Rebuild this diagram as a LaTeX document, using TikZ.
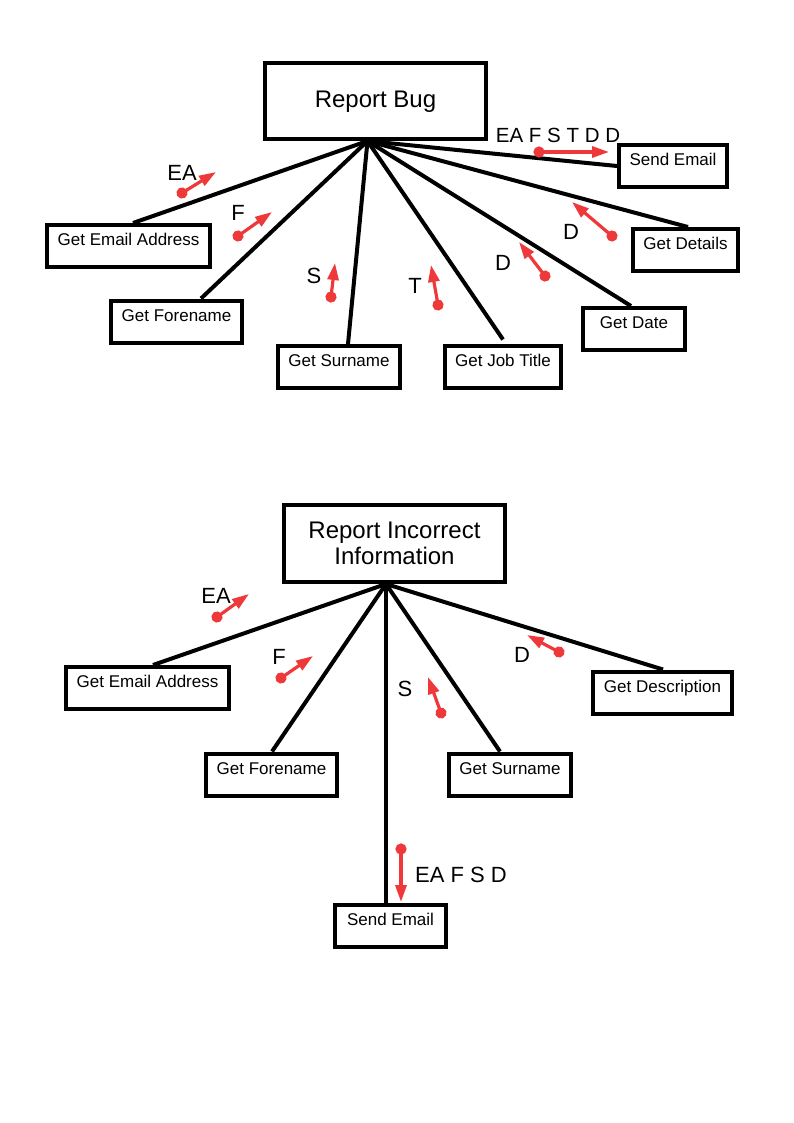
\documentclass[tikz,border=0pt]{standalone}
\usepackage{fontspec}
\setmainfont{Liberation Sans}
\usetikzlibrary{arrows.meta,calc}
\definecolor{flowred}{RGB}{238,56,58}
\tikzset{
  bigbox/.style={draw,line width=4pt,inner sep=0pt,minimum height=76pt,minimum width=221pt,
    font=\fontsize{24}{26.5}\selectfont,align=center},
  smallbox/.style={draw,line width=4pt,inner sep=0pt,minimum height=42pt,
    text height=12pt,text depth=13pt,font=\fontsize{17}{20}\selectfont},
  link/.style={line width=4pt},
  flow/.style={flowred,line width=3.2pt,shorten <=-5.5pt,{Circle[length=11pt]}-{Triangle[length=17pt,width=11pt]}},
  flowlabel/.style={inner sep=0pt,font=\fontsize{22}{24}\selectfont}
}
\begin{document}
\begin{tikzpicture}[x=1pt,y=-1pt]
\path[use as bounding box,fill=white] (0,0) rectangle (794,1123);

% ---------- Report Bug ----------
\node[bigbox,text height=17pt,text depth=3pt] (rb) at (375.5,101) {Report Bug};
\coordinate (hubA) at (367.5,141);
\node[smallbox,minimum width=163pt] (gea) at (128.5,246) {Get Email Address};
\node[smallbox,minimum width=131pt] (gfo) at (176.5,321.5) {Get Forename};
\node[smallbox,minimum width=122pt] (gsu) at (339,367) {Get Surname};
\node[smallbox,minimum width=116pt] (gjt) at (503,366.5) {Get Job Title};
\node[smallbox,minimum width=102pt] (gda) at (634,329) {Get Date\hspace{13pt}};
\node[smallbox,minimum width=105pt] (gde) at (685.5,250) {Get Details};
\node[smallbox,minimum width=108pt] (sem) at (673,166) {Send Email};

\draw[link] (hubA) -- ([xshift=4.5pt]gea.north);
\draw[link] (hubA) -- ([xshift=24.5pt]gfo.north);
\draw[link] (hubA) -- ([xshift=9pt]gsu.north);
\draw[link] (hubA) -- ([yshift=4pt]gjt.north);
\draw[link] (hubA) -- ([xshift=-3pt]gda.north);
\draw[link] (hubA) -- ([xshift=2.5pt]gde.north);
\draw[link] (hubA) -- (sem.west);

\draw[flow] (182,193) -- (216,172);
\node[flowlabel] (lea) at (182,173) {EA};
\draw[flow] (238,236) -- (272,212);
\node[flowlabel] (lf) at (238,213) {F};
\draw[flow] (331,297) -- (335,263);
\node[flowlabel] (ls) at (314,276) {S};
\draw[flow] (438,305) -- (431,265);
\node[flowlabel] (lt) at (415,286) {T};
\draw[flow] (545,276) -- (519,242);
\node[flowlabel] (ld) at (503,263) {D};
\draw[flow] (612,236) -- (572,202);
\node[flowlabel] (ldd) at (571,232) {D};
\draw[flow] (539,152) -- (609,152);
\node[flowlabel,font=\fontsize{20.5}{24}\selectfont] (lall) at (558,135) {EA F S T D D};

% ---------- Report Incorrect Information ----------
\node[bigbox,minimum height=77pt] (rii) at (394.5,543.5) {Report Incorrect\\Information};
\coordinate (hubB) at (386,584);
\node[smallbox,minimum width=163pt] (bgea) at (147.5,688) {Get Email Address};
\node[smallbox,minimum width=131pt] (bgfo) at (271.5,774.5) {Get Forename};
\node[smallbox,minimum width=111pt] (bsem) at (390.5,926) {Send Email};
\node[smallbox,minimum width=122pt] (bgsu) at (510,774.5) {Get Surname};
\node[smallbox,minimum width=139pt] (bgdes) at (662.5,692.5) {Get Description};

\draw[link] (hubB) -- ([xshift=5.5pt]bgea.north);
\draw[link] (hubB) -- ([xshift=0.5pt]bgfo.north);
\draw[link] (hubB) -- ([xshift=-4.5pt]bsem.north);
\draw[link] (hubB) -- ([xshift=-10pt]bgsu.north);
\draw[link] (hubB) -- ([xshift=0.5pt]bgdes.north);

\draw[flow] (217,617) -- (249,594);
\node[flowlabel] (blea) at (216,596) {EA};
\draw[flow] (281,678) -- (313,656);
\node[flowlabel] (blf) at (279,657) {F};
\draw[flow] (441,713) -- (428,677);
\node[flowlabel] (bls) at (405,689) {S};
\draw[flow] (559,652) -- (527,635);
\node[flowlabel] (bld) at (522,655) {D};
\draw[flow] (401,849) -- (401,902);
\node[flowlabel] (blall) at (461,875) {EA F S D};
\end{tikzpicture}
\end{document}
